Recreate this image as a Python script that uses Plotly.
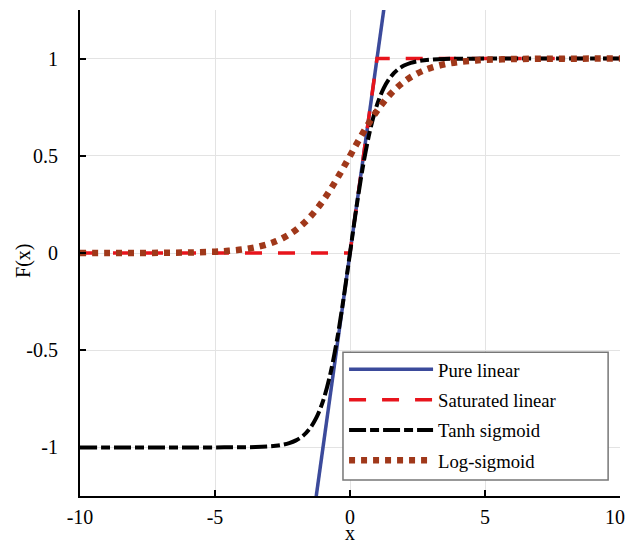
import plotly.graph_objects as go

# ---- data ----
lin_x = [-10, 10]
lin_y = [-10, 10]

sat_x = [-10, 0, 1, 10]
sat_y = [0, 0, 1, 1]

sig_x = [-10, -9, -8, -7, -6, -5, -4.5, -4, -3.5, -3, -2.75, -2.5, -2.25, -2, -1.75, -1.5,
         -1.25, -1, -0.75, -0.5, -0.25, 0, 0.25, 0.5, 0.75, 1, 1.25, 1.5, 1.75, 2, 2.25,
         2.5, 2.75, 3, 3.5, 4, 4.5, 5, 6, 7, 8, 9, 10]
tanh_y = [-1.0, -1.0, -1.0, -1.0, -1.0, -0.9999, -0.9998, -0.9993, -0.9982, -0.9951, -0.9919,
          -0.9866, -0.9780, -0.9640, -0.9414, -0.9051, -0.8483, -0.7616, -0.6351, -0.4621,
          -0.2449, 0.0, 0.2449, 0.4621, 0.6351, 0.7616, 0.8483, 0.9051, 0.9414, 0.9640,
          0.9780, 0.9866, 0.9919, 0.9951, 0.9982, 0.9993, 0.9998, 0.9999, 1.0, 1.0, 1.0,
          1.0, 1.0]
logsig_y = [0.0000, 0.0001, 0.0003, 0.0009, 0.0025, 0.0067, 0.0110, 0.0180, 0.0293, 0.0474,
            0.0601, 0.0759, 0.0953, 0.1192, 0.1480, 0.1824, 0.2227, 0.2689, 0.3208, 0.3775,
            0.4378, 0.5, 0.5622, 0.6225, 0.6792, 0.7311, 0.7773, 0.8176, 0.8520, 0.8808,
            0.9047, 0.9241, 0.9399, 0.9526, 0.9707, 0.9820, 0.9890, 0.9933, 0.9975, 0.9991,
            0.9997, 0.9999, 1.0000]

names = ["Pure linear", "Saturated linear", "Tanh sigmoid", "Log-sigmoid"]
x_ticks = [-10, -5, 0, 5, 10]
x_tick_text = ["-10", "-5", "0", "5", "10\u2002"]
y_ticks = [-1, -0.5, 0, 0.5, 1]
y_tick_text = ["-1", "-0.5", "0", "0.5", "1"]
x_title = "x"
y_title = "F(x)"

FONT = "Liberation Serif, Times New Roman, serif"

fig = go.Figure()
fig.add_trace(go.Scatter(x=lin_x, y=lin_y, mode="lines", name=names[0], legendgroup="a",
                         line=dict(color="#3b4a9b", width=3.5)))
fig.add_trace(go.Scatter(x=sat_x, y=sat_y, mode="lines", name=names[1], legendgroup="b",
                         line=dict(color="#e8141c", width=3.5, dash="17px,16px")))
fig.add_trace(go.Scatter(x=sig_x, y=tanh_y, mode="lines", name=names[2], legendgroup="c",
                         line=dict(color="black", width=4, dash="17px,4px,9px,4px",
                                   shape="spline")))
fig.add_trace(go.Scatter(x=sig_x, y=logsig_y, mode="lines", name=names[3], legendgroup="d",
                         line=dict(color="#a0381a", width=6.5, dash="6px,6px",
                                   shape="spline")))

fig.update_layout(
    width=627, height=543,
    margin=dict(l=80, r=7, t=10, b=47),
    paper_bgcolor="white", plot_bgcolor="white",
    font=dict(family=FONT, size=20, color="black"),
    showlegend=True,
    legend=dict(x=0.489, y=0.299, xanchor="left", yanchor="top",
                bgcolor="rgba(0,0,0,0)", borderwidth=0,
                font=dict(family=FONT, size=18.7, color="black"),
                itemwidth=84, tracegroupgap=3),
    shapes=[dict(type="rect", xref="paper", yref="paper",
                 x0=0.487, x1=0.978, y0=0.033, y1=0.296, layer="above",
                 fillcolor="white", line=dict(color="#777777", width=1.5))],
    annotations=[dict(text=y_title, textangle=-90, xref="paper", yref="paper",
                      x=-0.1056, y=0.4835, xanchor="center", yanchor="middle",
                      showarrow=False, font=dict(family=FONT, size=20)),
                 dict(text=x_title, xref="paper", yref="paper",
                      x=0.5, y=-0.077, xanchor="center", yanchor="middle",
                      showarrow=False, font=dict(family=FONT, size=20))],
)
fig.update_xaxes(range=[-10, 10], tickvals=x_ticks, ticktext=x_tick_text,
                 ticks="inside", ticklen=6,
                 tickwidth=2, tickcolor="black", showline=True, linecolor="black",
                 linewidth=2, showgrid=True, gridcolor="#e3e3e3", gridwidth=1,
                 zeroline=False, automargin=False,
                 ticklabeloverflow="allow", ticklabelstandoff=2,
                 tickfont=dict(family=FONT, size=20))
fig.update_yaxes(range=[-1.25, 1.25], tickvals=y_ticks, ticktext=y_tick_text,
                 ticks="inside", ticklen=6, tickwidth=2, tickcolor="black",
                 showline=True, linecolor="black", linewidth=2, showgrid=True,
                 gridcolor="#e3e3e3", gridwidth=1, zeroline=False, automargin=False,
                 tickfont=dict(family=FONT, size=20), ticklabelstandoff=16)

fig.write_html("out.html", config={"displayModeBar": False},
               post_script="document.body.style.margin='0';")
